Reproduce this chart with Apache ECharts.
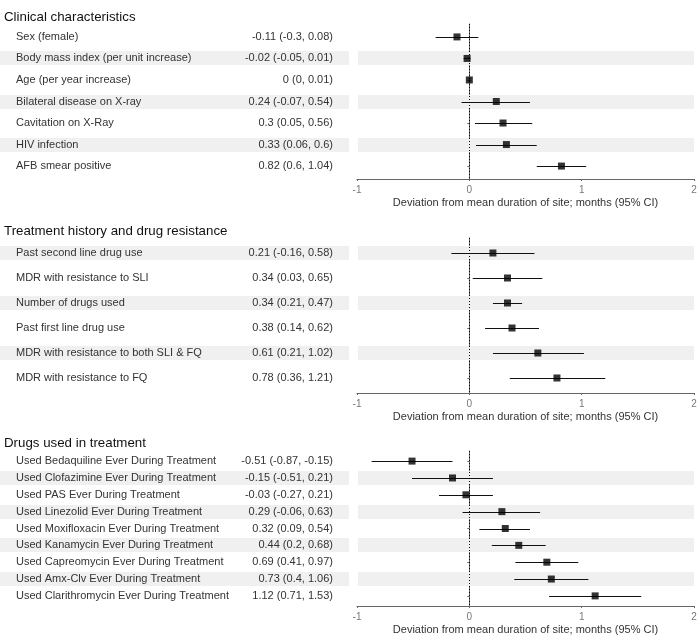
<!DOCTYPE html>
<html>
<head>
<meta charset="utf-8">
<script src="https://cdn.jsdelivr.net/npm/echarts@6/dist/echarts.min.js"></script>
<style>html,body{margin:0;padding:0;background:#fff}#c{width:700px;height:640px}</style>
</head>
<body>
<div id="c"></div>
<script>
// ---- data ----
var panelTitles = ['Clinical characteristics', 'Treatment history and drug resistance', 'Drugs used in treatment'];
var axisTitle = 'Deviation from mean duration of site; months (95% CI)';
var xTicks = [-1, 0, 1, 2];

var clinLabels = ['Sex (female)', 'Body mass index (per unit increase)', 'Age (per year increase)', 'Bilateral disease on X-ray', 'Cavitation on X-Ray', 'HIV infection', 'AFB smear positive'];
var clinEst = [-0.11, -0.02, 0, 0.24, 0.3, 0.33, 0.82];
var clinLo  = [-0.3, -0.05, 0, -0.07, 0.05, 0.06, 0.6];
var clinHi  = [0.08, 0.01, 0.01, 0.54, 0.56, 0.6, 1.04];

var treatLabels = ['Past second line drug use', 'MDR with resistance to SLI', 'Number of drugs used', 'Past first line drug use', 'MDR with resistance to both SLI & FQ', 'MDR with resistance to FQ'];
var treatEst = [0.21, 0.34, 0.34, 0.38, 0.61, 0.78];
var treatLo  = [-0.16, 0.03, 0.21, 0.14, 0.21, 0.36];
var treatHi  = [0.58, 0.65, 0.47, 0.62, 1.02, 1.21];

var drugLabels = ['Used Bedaquiline Ever During Treatment', 'Used Clofazimine Ever During Treatment', 'Used PAS Ever During Treatment', 'Used Linezolid Ever During Treatment', 'Used Moxifloxacin Ever During Treatment', 'Used Kanamycin Ever During Treatment', 'Used Capreomycin Ever During Treatment', 'Used Amx-Clv Ever During Treatment', 'Used Clarithromycin Ever During Treatment'];
var drugEst = [-0.51, -0.15, -0.03, 0.29, 0.32, 0.44, 0.69, 0.73, 1.12];
var drugLo  = [-0.87, -0.51, -0.27, -0.06, 0.09, 0.2, 0.41, 0.4, 0.71];
var drugHi  = [-0.15, 0.21, 0.21, 0.63, 0.54, 0.68, 0.97, 1.06, 1.53];

// ---- layout ----
var panels = [
  {labels: clinLabels, est: clinEst, lo: clinLo, hi: clinHi, top: 24, titleY: 17, shadeOdd: true},
  {labels: treatLabels, est: treatEst, lo: treatLo, hi: treatHi, top: 238, titleY: 231, shadeOdd: false},
  {labels: drugLabels, est: drugEst, lo: drugLo, hi: drugHi, top: 451, titleY: 443, shadeOdd: true}
];
var PH = 155, PLOT_L = 357, PLOT_W = 337, TAB_W = 349;
var FONT = '"Liberation Sans", Arial, sans-serif';
var BAND = '#f0f0f0';
var TXT = 11;

var grid = [], xAxis = [], yAxis = [], series = [], title = [];
panels.forEach(function (p, k) {
  var n = p.labels.length;
  var gPlot = k * 2, gTab = k * 2 + 1;
  grid.push({left: PLOT_L, top: p.top, width: PLOT_W, height: PH});
  grid.push({left: 0, top: p.top, width: TAB_W, height: PH});
  title.push({text: panelTitles[k], left: 4, top: p.titleY - 7, padding: 0,
    textStyle: {fontFamily: FONT, fontSize: 13.3, fontWeight: 'normal', color: '#111', lineHeight: 14}});
  xAxis.push({type: 'value', gridIndex: gPlot, min: -1, max: 2, interval: 1,
    axisLine: {show: true, lineStyle: {color: '#666', width: 1}},
    axisTick: {show: true, length: 2, lineStyle: {color: '#666'}},
    axisLabel: {margin: 6, fontFamily: FONT, fontSize: 10, color: '#777'},
    splitLine: {show: false},
    name: axisTitle, nameLocation: 'middle', nameGap: 18,
    nameTextStyle: {fontFamily: FONT, fontSize: 11, color: '#333'}});
  xAxis.push({type: 'value', gridIndex: gTab, min: 0, max: TAB_W, show: false});
  var ticks = [];
  for (var i = 1; i <= n; i++) ticks.push(i);
  yAxis.push({type: 'value', gridIndex: gPlot, min: 0.4, max: n + 0.6, inverse: true,
    axisLine: {show: true, lineStyle: {color: '#666', width: 1}},
    axisTick: {show: true, length: 2, customValues: ticks, lineStyle: {color: '#666'}},
    axisLabel: {show: false}, splitLine: {show: false}});
  yAxis.push({type: 'value', gridIndex: gTab, min: 0.4, max: n + 0.6, inverse: true, show: false});

  var rows = p.labels.map(function (lab, i) {
    return [i + 1, p.est[i], p.lo[i], p.hi[i], lab, p.est[i] + ' (' + p.lo[i] + ', ' + p.hi[i] + ')', ((i % 2 === 1) === p.shadeOdd) ? 1 : 0];
  });

  // bands in plot area
  series.push({type: 'custom', xAxisIndex: gPlot, yAxisIndex: gPlot, z: 1, silent: true,
    data: rows,
    renderItem: function (params, api) {
      if (!api.value(6)) return null;
      var y = Math.round(api.coord([0, api.value(0)])[1]);
      var x0 = api.coord([-1, 0])[0] + 1, x1 = api.coord([2, 0])[0];
      return {type: 'rect', shape: {x: x0, y: y - 7, width: x1 - x0, height: 14}, style: {fill: BAND}};
    }});
  // bands + text in table area
  series.push({type: 'custom', xAxisIndex: gTab, yAxisIndex: gTab, z: 1, silent: true,
    data: rows,
    renderItem: function (params, api) {
      var y = Math.round(api.coord([0, api.value(0)])[1]);
      var xa = api.coord([0, 0])[0], xb = api.coord([TAB_W, 0])[0];
      var xl = api.coord([16, 0])[0], xr = api.coord([333, 0])[0];
      var children = [];
      if (api.value(6)) children.push({type: 'rect', shape: {x: xa, y: y - 7, width: xb - xa, height: 14}, style: {fill: BAND}});
      children.push({type: 'text', x: xl, y: y, style: {text: api.value(4), fontFamily: FONT, fontSize: TXT, fill: '#333', align: 'left', verticalAlign: 'middle'}});
      children.push({type: 'text', x: xr, y: y, style: {text: api.value(5), fontFamily: FONT, fontSize: TXT, fill: '#333', align: 'right', verticalAlign: 'middle'}});
      return {type: 'group', children: children};
    }});
  // CI lines
  series.push({type: 'custom', xAxisIndex: gPlot, yAxisIndex: gPlot, z: 3, silent: true,
    data: rows,
    renderItem: function (params, api) {
      var a = api.coord([api.value(2), api.value(0)]);
      var b = api.coord([api.value(3), api.value(0)]);
      var y = Math.round(a[1]) + 0.5;
      return {type: 'line', shape: {x1: a[0], y1: y, x2: b[0], y2: y}, style: {stroke: '#111', lineWidth: 1}};
    },
    markLine: {silent: true, symbol: 'none', label: {show: false},
      lineStyle: {type: [1, 2], color: '#000', width: 1},
      data: [{xAxis: 0}]}});
  // point estimates
  series.push({type: 'scatter', xAxisIndex: gPlot, yAxisIndex: gPlot, z: 4, silent: true,
    symbol: 'rect', symbolSize: 7, itemStyle: {color: '#000'},
    data: rows.map(function (r) { return [r[1], r[0]]; })});
});

var chart = echarts.init(document.getElementById('c'), null, {renderer: 'canvas'});
chart.setOption({animation: false, backgroundColor: '#fff', title: title, grid: grid, xAxis: xAxis, yAxis: yAxis, series: series});
</script>
</body>
</html>
